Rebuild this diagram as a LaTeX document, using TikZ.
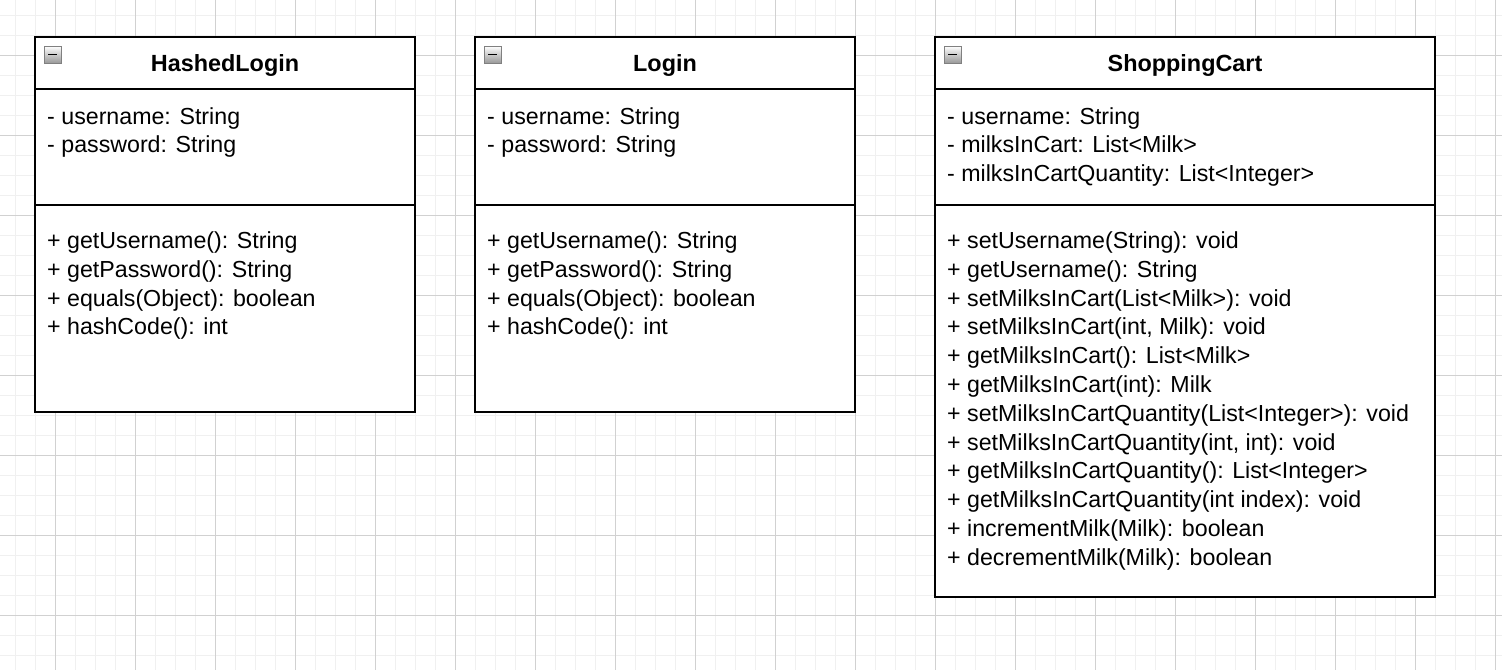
\documentclass[tikz,border=0pt]{standalone}
\usepackage{fontspec}
\setmainfont{Liberation Sans}
\begin{document}
\begin{tikzpicture}[x=1pt,y=-1pt,
  classbox/.style={draw=black,line width=2pt,fill=white,anchor=north west,inner sep=0pt,outer sep=0pt,minimum width=#1},
  sepline/.style={draw=black,line width=2pt},
  txt/.style={anchor=base west,inner sep=0pt,font=\fontsize{23.2}{29}\selectfont},
  ttl/.style={anchor=base,inner sep=0pt,font=\fontsize{23.4}{29}\selectfont\bfseries},
  minusicon/.style={draw=black!50,line width=1pt,top color=white,bottom color=black!40,minimum size=17pt,inner sep=0pt,outer sep=0pt,anchor=north west}
]
\useasboundingbox (0,0) rectangle (1502,670);
\fill[white] (0,0) rectangle (1502,670);
% grid
\foreach \x in {15,35,...,1502} \draw[color=black!6,line width=1pt] (\x,0) -- (\x,670);
\foreach \y in {15,35,...,670} \draw[color=black!6,line width=1pt] (0,\y) -- (1502,\y);
\foreach \x in {55,135,...,1502} \draw[color=black!18,line width=1pt] (\x,0) -- (\x,670);
\foreach \y in {55,135,...,670} \draw[color=black!18,line width=1pt] (0,\y) -- (1502,\y);

% HashedLogin
\node[classbox=380pt,minimum height=375pt] (hl) at (35,37) {};
\draw[sepline] (35,89) -- (415,89);
\draw[sepline] (35,205) -- (415,205);
\node[minusicon] (hlicon) at (44,46) {};
\draw[line width=1.5pt] ([xshift=4pt]hlicon.west) -- ([xshift=-4pt]hlicon.east);
\node[ttl] (hlt) at (225,71.5) {HashedLogin};
\node[txt] (hla1) at (47,124) {- username: String};
\node[txt] (hla2) at (47,152.8) {- password: String};
\node[txt] (hlm1) at (47,248.5) {+ getUsername(): String};
\node[txt] (hlm2) at (47,277.3) {+ getPassword(): String};
\node[txt] (hlm3) at (47,306.1) {+ equals(Object): boolean};
\node[txt] (hlm4) at (47,334.9) {+ hashCode(): int};

% Login
\node[classbox=380pt,minimum height=375pt] (lg) at (475,37) {};
\draw[sepline] (475,89) -- (855,89);
\draw[sepline] (475,205) -- (855,205);
\node[minusicon] (lgicon) at (484,46) {};
\draw[line width=1.5pt] ([xshift=4pt]lgicon.west) -- ([xshift=-4pt]lgicon.east);
\node[ttl] (lgt) at (665,71.5) {Login};
\node[txt] (lga1) at (487,124) {- username: String};
\node[txt] (lga2) at (487,152.8) {- password: String};
\node[txt] (lgm1) at (487,248.5) {+ getUsername(): String};
\node[txt] (lgm2) at (487,277.3) {+ getPassword(): String};
\node[txt] (lgm3) at (487,306.1) {+ equals(Object): boolean};
\node[txt] (lgm4) at (487,334.9) {+ hashCode(): int};

% ShoppingCart
\node[classbox=500pt,minimum height=560pt] (sc) at (935,37) {};
\draw[sepline] (935,89) -- (1435,89);
\draw[sepline] (935,205) -- (1435,205);
\node[minusicon] (scicon) at (944,46) {};
\draw[line width=1.5pt] ([xshift=4pt]scicon.west) -- ([xshift=-4pt]scicon.east);
\node[ttl] (sct) at (1185,71.5) {ShoppingCart};
\node[txt] (sca1) at (947,124) {- username: String};
\node[txt] (sca2) at (947,152.8) {- milksInCart: List<Milk>};
\node[txt] (sca3) at (947,181.6) {- milksInCartQuantity: List<Integer>};
\node[txt] (scm1) at (947,248.5) {+ setUsername(String): void};
\node[txt] (scm2) at (947,277.3) {+ getUsername(): String};
\node[txt] (scm3) at (947,306.1) {+ setMilksInCart(List<Milk>): void};
\node[txt] (scm4) at (947,334.9) {+ setMilksInCart(int, Milk): void};
\node[txt] (scm5) at (947,363.7) {+ getMilksInCart(): List<Milk>};
\node[txt] (scm6) at (947,392.5) {+ getMilksInCart(int): Milk};
\node[txt] (scm7) at (947,421.3) {+ setMilksInCartQuantity(List<Integer>): void};
\node[txt] (scm8) at (947,450.1) {+ setMilksInCartQuantity(int, int): void};
\node[txt] (scm9) at (947,478.9) {+ getMilksInCartQuantity(): List<Integer>};
\node[txt] (scm10) at (947,507.7) {+ getMilksInCartQuantity(int index): void};
\node[txt] (scm11) at (947,536.5) {+ incrementMilk(Milk): boolean};
\node[txt] (scm12) at (947,565.3) {+ decrementMilk(Milk): boolean};
\end{tikzpicture}
\end{document}
